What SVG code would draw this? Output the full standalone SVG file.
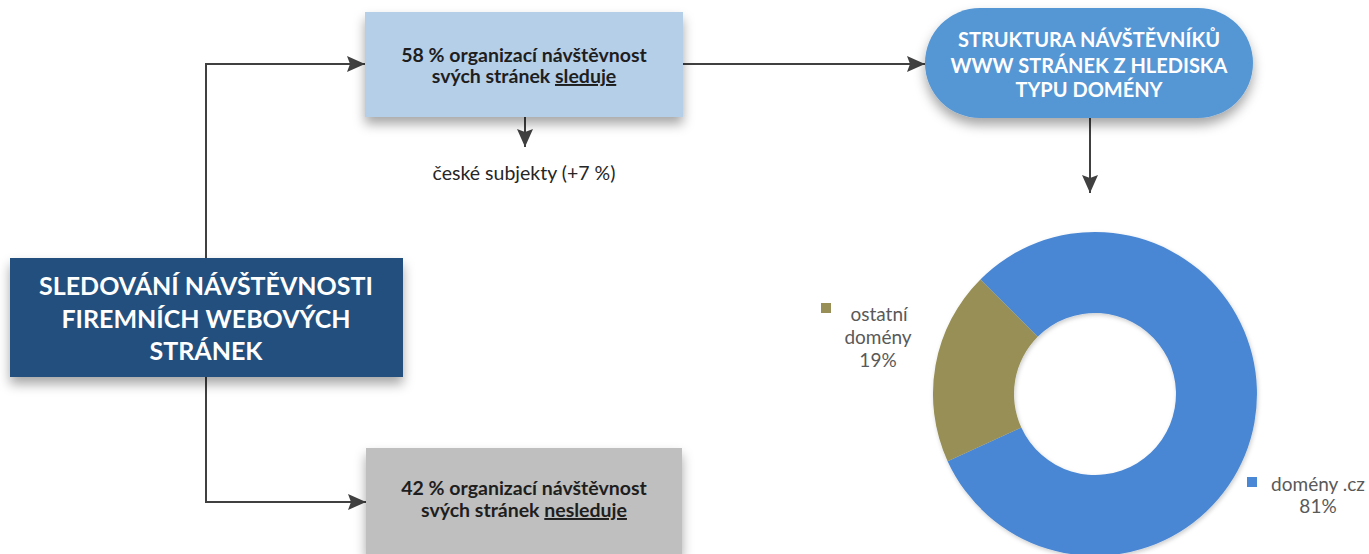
<svg xmlns="http://www.w3.org/2000/svg" width="1369" height="554" viewBox="0 0 1369 554">
<defs>
<style>
.conn{fill:none;stroke:#404040;stroke-width:2}
.t{font-family:Lato,"Open Sans",sans-serif;text-anchor:middle}
.wb{fill:#ffffff;font-weight:bold}
.db{fill:#1e1e1e;font-weight:bold;font-size:19.5px}
.leg{fill:#595959;font-size:19px}
</style>
<marker id="ah" markerUnits="userSpaceOnUse" markerWidth="18" markerHeight="16" refX="18" refY="8" orient="auto">
<path d="M0,0 L18,8 L0,16 L3,8 Z" fill="#404040"/>
</marker>
<filter id="sh" x="-10%" y="-20%" width="120%" height="150%">
<feDropShadow dx="0" dy="7" stdDeviation="6" flood-color="#000" flood-opacity="0.35"/>
</filter>
<filter id="sh2" x="-10%" y="-10%" width="120%" height="120%">
<feDropShadow dx="1" dy="2" stdDeviation="2" flood-color="#000" flood-opacity="0.2"/>
</filter>
</defs>
<rect width="1369" height="554" fill="#ffffff"/>

<g id="connectors">
<path class="conn" d="M206,258 V64 H365" marker-end="url(#ah)"/>
<path class="conn" d="M206,377 V502 H366" marker-end="url(#ah)"/>
<path class="conn" d="M683,64 H925" marker-end="url(#ah)"/>
<path class="conn" d="M525,117 V147" marker-end="url(#ah)"/>
<path class="conn" d="M1090,118 V193" marker-end="url(#ah)"/>
</g>

<g id="main">
<rect x="10" y="258" width="393" height="119" fill="#21507e" filter="url(#sh)"/>
<text class="t wb" font-size="25" x="206" y="295">SLEDOVÁNÍ NÁVŠTĚVNOSTI</text>
<text class="t wb" font-size="25" x="206" y="328">FIREMNÍCH WEBOVÝCH</text>
<text class="t wb" font-size="25" x="206" y="360">STRÁNEK</text>
</g>

<g id="sleduje">
<rect x="365" y="12" width="318" height="105" fill="#b6cfe9" filter="url(#sh)"/>
<text class="t db" x="524" y="62">58 % organizací návštěvnost</text>
<text class="t db" x="524" y="83">svých stránek <tspan text-decoration="underline">sleduje</tspan></text>
</g>

<g id="ceske">
<text class="t" x="524" y="180" font-size="19.5" fill="#262626">české subjekty (+7 %)</text>
</g>

<g id="nesleduje">
<rect x="366" y="448" width="316" height="106" fill="#bfbfbf" filter="url(#sh)"/>
<text class="t db" x="524" y="495">42 % organizací návštěvnost</text>
<text class="t db" x="524" y="517">svých stránek <tspan text-decoration="underline">nesleduje</tspan></text>
</g>

<g id="struktura">
<rect x="925" y="8" width="328" height="110" rx="55" ry="55" fill="#5596d4" filter="url(#sh)"/>
<text class="t wb" font-size="20" x="1089" y="47">STRUKTURA NÁVŠTĚVNÍKŮ</text>
<text class="t wb" font-size="20" x="1089" y="73">WWW STRÁNEK Z HLEDISKA</text>
<text class="t wb" font-size="20" x="1089" y="97">TYPU DOMÉNY</text>
</g>

<g id="donut" filter="url(#sh2)">
<path d="M980.4,279.4 A162,162 0 1 1 947.6,461.2 L1021.3,427.6 A81,81 0 1 0 1037.7,336.7 Z" fill="#4a87d4"/>
<path d="M947.6,461.2 A162,162 0 0 1 980.4,279.4 L1037.7,336.7 A81,81 0 0 0 1021.3,427.6 Z" fill="#978f55"/>
</g>

<g id="legend-ostatni">
<rect x="821" y="303" width="10" height="10" fill="#978f55"/>
<text class="t leg" x="879" y="321">ostatní</text>
<text class="t leg" x="878" y="344">domény</text>
<text class="t leg" x="878" y="367">19%</text>
</g>

<g id="legend-cz">
<rect x="1247" y="477" width="10" height="10" fill="#4a87d4"/>
<text class="t leg" x="1318" y="491">domény .cz</text>
<text class="t leg" x="1318" y="513">81%</text>
</g>
</svg>
